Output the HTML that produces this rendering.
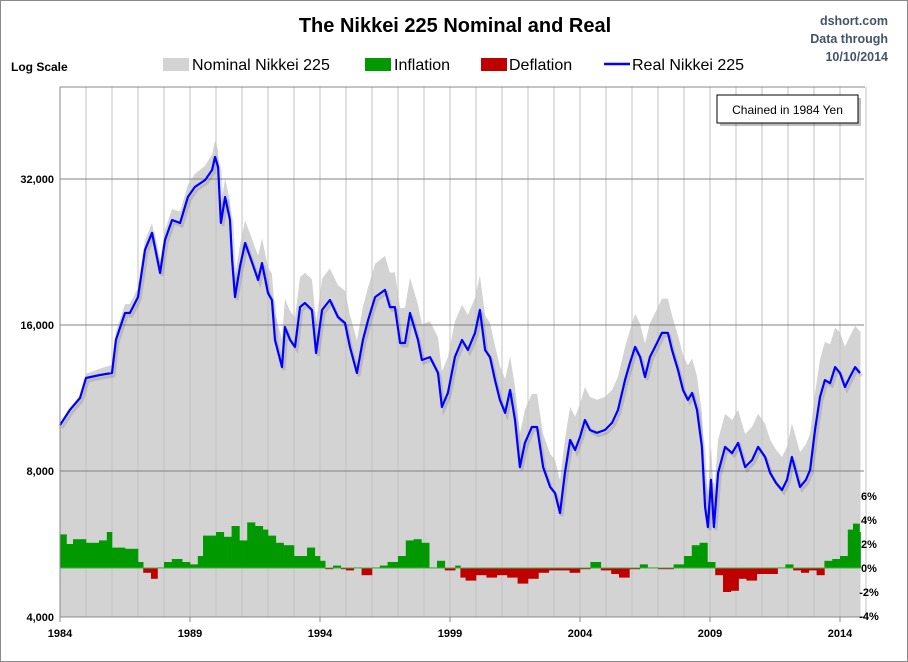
<!DOCTYPE html>
<html><head><meta charset="utf-8"><style>
html,body{margin:0;padding:0;background:#fff}
svg{display:block;font-family:"Liberation Sans",sans-serif}
</style></head><body>
<svg id="chart" width="908" height="662" viewBox="0 0 908 662">
<rect x="0.5" y="0.5" width="907" height="661" fill="#fff" stroke="#8a8a8a"/>
<text x="455" y="32" text-anchor="middle" font-size="20" font-weight="bold" fill="#000">The Nikkei 225 Nominal and Real</text>
<g font-size="12.5" font-weight="bold" fill="#44546a" text-anchor="end">
<text x="888" y="25">dshort.com</text><text x="888" y="43">Data through</text><text x="888" y="61">10/10/2014</text></g>
<text x="11" y="71" font-size="12" font-weight="bold">Log Scale</text>
<g font-size="16">
<g><rect x="163" y="58" width="26" height="13" fill="#d3d3d3"/><text x="192" y="70">Nominal Nikkei 225</text></g>
<g><rect x="365" y="58" width="26" height="13" fill="#009900"/><text x="394" y="70">Inflation</text></g>
<g><rect x="481" y="58" width="26" height="13" fill="#c00000"/><text x="509" y="70">Deflation</text></g>
<g><line x1="604" y1="64" x2="630" y2="64" stroke="#0000ff" stroke-width="2.5"/><text x="632" y="70">Real Nikkei 225</text></g>
</g>
<g id="plot"></g>
</svg>
<script>
const realYears=[1984.0,1984.38,1984.77,1985.0,1985.54,1986.0,1986.15,1986.5,1986.69,1987.0,1987.27,1987.54,1987.85,1988.04,1988.31,1988.62,1988.92,1989.19,1989.58,1989.85,1989.96,1990.08,1990.19,1990.35,1990.54,1990.62,1990.73,1990.92,1991.12,1991.31,1991.62,1991.77,1992.0,1992.15,1992.27,1992.54,1992.65,1992.85,1993.04,1993.23,1993.42,1993.69,1993.85,1994.08,1994.38,1994.69,1994.96,1995.15,1995.42,1995.65,1995.85,1996.12,1996.5,1996.69,1996.88,1997.08,1997.27,1997.46,1997.77,1997.92,1998.23,1998.54,1998.69,1998.92,1999.19,1999.46,1999.69,1999.96,2000.15,2000.35,2000.54,2000.73,2000.92,2001.12,2001.31,2001.5,2001.69,2001.88,2002.15,2002.35,2002.58,2002.85,2003.04,2003.23,2003.42,2003.62,2003.81,2004.0,2004.19,2004.38,2004.65,2004.96,2005.23,2005.46,2005.73,2005.92,2006.12,2006.31,2006.5,2006.69,2006.96,2007.15,2007.38,2007.54,2007.77,2007.96,2008.15,2008.31,2008.5,2008.69,2008.81,2008.92,2009.04,2009.15,2009.31,2009.58,2009.85,2010.08,2010.35,2010.62,2010.85,2011.12,2011.31,2011.54,2011.77,2011.96,2012.15,2012.46,2012.69,2012.85,2013.04,2013.23,2013.42,2013.62,2013.81,2014.0,2014.19,2014.38,2014.58,2014.77];
const realValues=[9950,10690,11310,12440,12620,12740,14900,16940,16940,18270,22850,24770,20480,23950,26340,25970,29380,30820,31830,33400,35520,33890,25970,29380,26340,21780,18270,21080,23620,22100,19810,21470,18620,18020,14900,13100,15850,14900,14420,17420,17760,17190,14010,17190,18020,16620,16150,14420,12740,14900,16380,18270,18900,17420,17420,14690,14690,16940,14900,13550,13740,12740,10840,11590,13740,14900,14210,15410,17190,14210,13740,12320,11210,10540,11750,10190,8150,9140,9860,9860,8150,7420,7210,6550,7930,9270,8840,9400,10190,9720,9590,9720,10050,10690,12320,13350,14420,13740,12500,13740,14690,15410,15410,14210,12920,11750,11210,11590,10690,8970,6740,6130,7670,6130,7930,8970,8710,9140,8150,8430,8970,8550,7930,7560,7310,7670,8550,7420,7670,8040,9720,11370,12320,12140,13100,12740,11920,12500,13100,12740];
const deflatorYears=[1984,1985,1986,1987,1988,1989,1990,1991,1992,1993,1994,1995,1996,1997,1998,1999,2000,2001,2002,2003,2004,2005,2006,2007,2008,2009,2010,2011,2012,2013,2014,2015];
const deflatorRatio=[1.00,1.02,1.04,1.045,1.05,1.06,1.08,1.11,1.13,1.15,1.16,1.165,1.17,1.18,1.185,1.185,1.18,1.175,1.17,1.17,1.17,1.17,1.17,1.175,1.18,1.17,1.17,1.17,1.17,1.19,1.21,1.22];
const inflYears=[1984.0,1984.25,1984.5,1985.0,1985.5,1985.8,1986.0,1986.5,1987.0,1987.2,1987.5,1987.75,1988.0,1988.3,1988.7,1989.0,1989.3,1989.5,1990.0,1990.3,1990.6,1990.9,1991.2,1991.5,1991.8,1992.0,1992.3,1992.6,1993.0,1993.3,1993.5,1993.8,1994.0,1994.2,1994.5,1994.8,1995.0,1995.3,1995.6,1996.0,1996.3,1996.6,1997.0,1997.3,1997.6,1997.9,1998.2,1998.5,1998.8,1999.2,1999.4,1999.6,2000.0,2000.4,2000.8,2001.2,2001.6,2002.0,2002.4,2002.8,2003.2,2003.6,2004.0,2004.4,2004.8,2005.2,2005.5,2005.9,2006.3,2006.6,2007.0,2007.3,2007.6,2008.0,2008.3,2008.6,2008.9,2009.2,2009.5,2009.8,2010.1,2010.4,2010.8,2011.2,2011.6,2011.9,2012.2,2012.5,2012.8,2013.1,2013.4,2013.7,2014.0,2014.3,2014.5,2014.75];
const inflValues=[2.8,2.0,2.4,2.1,2.3,3.0,1.7,1.6,0.5,-0.4,-0.9,0.05,0.5,0.75,0.5,0.3,1.0,2.7,3.0,2.6,3.5,2.3,3.8,3.5,3.2,2.7,2.1,1.9,1.0,1.0,1.7,1.0,0.6,-0.1,0.2,-0.1,-0.2,0.05,-0.6,0.05,0.2,0.5,1.0,2.3,2.4,2.1,0.05,0.6,-0.2,0.2,-0.8,-1.05,-0.6,-0.8,-0.6,-0.8,-1.3,-0.9,-0.4,-0.2,-0.2,-0.4,-0.1,0.5,-0.2,-0.5,-0.8,-0.1,0.3,0.05,-0.1,-0.1,0.3,1.0,1.9,2.1,0.5,-0.6,-2.0,-1.9,-0.9,-1.05,-0.5,-0.5,0.05,0.3,-0.2,-0.4,-0.2,-0.6,0.6,0.75,1.0,3.2,3.7,3.0];
const yTicks=[4000,8000,16000,32000];
const yTickLabels=["4,000","8,000","16,000","32,000"];
const xTicks=[1984,1989,1994,1999,2004,2009,2014];
const pctTicks=[6,4,2,0,-2,-4];
const pctLabels=["6%","4%","2%","0%","-2%","-4%"];

const L=60,R=862,T=87,B=617,DATA_END=2014.79;
const xS=y=>L+(y-1984)*26;
const yS=v=>B-Math.log2(v/4000)*146;
const pS=p=>568-p*12;
const NS="http://www.w3.org/2000/svg";
const plot=document.getElementById('plot');
function mk(tag,attrs,parent){const e=document.createElementNS(NS,tag);for(const k in attrs)e.setAttribute(k,attrs[k]);(parent||plot).appendChild(e);return e;}
function defl(y){for(let i=0;i<deflatorYears.length-1;i++){if(y<=deflatorYears[i+1]){const t=(y-deflatorYears[i])/(deflatorYears[i+1]-deflatorYears[i]);return deflatorRatio[i]+t*(deflatorRatio[i+1]-deflatorRatio[i]);}}return deflatorRatio[deflatorRatio.length-1];}

// nominal area
let d='M'+xS(realYears[0])+','+B;
realYears.forEach((y,i)=>{d+=' L'+xS(y).toFixed(1)+','+yS(realValues[i]*defl(y)).toFixed(1);});
d+=' L'+xS(DATA_END)+','+yS(realValues[realValues.length-1]*defl(DATA_END)).toFixed(1)+' L'+xS(DATA_END)+','+B+' Z';
const area=mk('path',{d:d,fill:'#d3d3d3'});



// vertical gridlines
for(let yr=1985;yr<=2015;yr++){const g=mk('line',{x1:xS(yr),x2:xS(yr),y1:T,y2:B,stroke:'#c0c0c0','stroke-width':1});

}
// horizontal gridlines
yTicks.forEach((v,i)=>{if(v>4000){const g=mk('line',{x1:L,x2:R+2,y1:yS(v),y2:yS(v),stroke:'#808080','stroke-width':1});

}
const t=mk('text',{x:54,y:yS(v)+4,'text-anchor':'end','font-size':11,'font-weight':'bold'});t.textContent=yTickLabels[i];

});

// inflation bars
inflYears.forEach((y,i)=>{const x1=xS(y),x2=i<inflYears.length-1?xS(inflYears[i+1]):xS(DATA_END);const v=inflValues[i];
const r=mk('rect',{x:x1,width:x2-x1+0.3,y:Math.min(pS(v),pS(0)),height:Math.abs(pS(v)-pS(0)),fill:v>=0?'#009900':'#c00000'});

});
const zl=mk('line',{x1:L,x2:xS(DATA_END),y1:pS(0),y2:pS(0),stroke:'#44b044','stroke-width':1});



// real line shadow + line
let p='';realYears.forEach((y,i)=>{p+=(i?' L':'M')+xS(y).toFixed(1)+','+yS(realValues[i]).toFixed(1);});
const sh=mk('path',{d:p,fill:'none',stroke:'rgba(0,0,0,0.12)','stroke-width':3,transform:'translate(2,3)'});


const ln=mk('path',{d:p,fill:'none',stroke:'#0000ff','stroke-width':2.2,'stroke-linejoin':'round'});



// axes frame
const ax=mk('path',{d:`M${L},${T} L${R+3},${T} M${L},${T} L${L},${B} L${R+3},${B}`,fill:'none',stroke:'#8a8a8a','stroke-width':1});


xTicks.forEach(y=>{const tk=mk('line',{x1:xS(y),x2:xS(y),y1:B,y2:B+5,stroke:'#8a8a8a'});


const t=mk('text',{x:xS(y),y:B+20,'text-anchor':'middle','font-size':11,'font-weight':'bold'});t.textContent=y;

});
pctTicks.forEach((v,i)=>{const t=mk('text',{x:869,y:pS(v)+4,'text-anchor':'middle','font-size':11,'font-weight':'bold'});t.textContent=pctLabels[i];

});

// callout
const cs=mk('rect',{x:720,y:98,width:141,height:28,fill:'rgba(0,0,0,0.25)'});


const cb=mk('rect',{x:717,y:95,width:141,height:28,fill:'#fff',stroke:'#000','stroke-width':1});


const ct=mk('text',{x:787.5,y:114,'text-anchor':'middle','font-size':12});ct.textContent='Chained in 1984 Yen';


</script>
</body></html>
